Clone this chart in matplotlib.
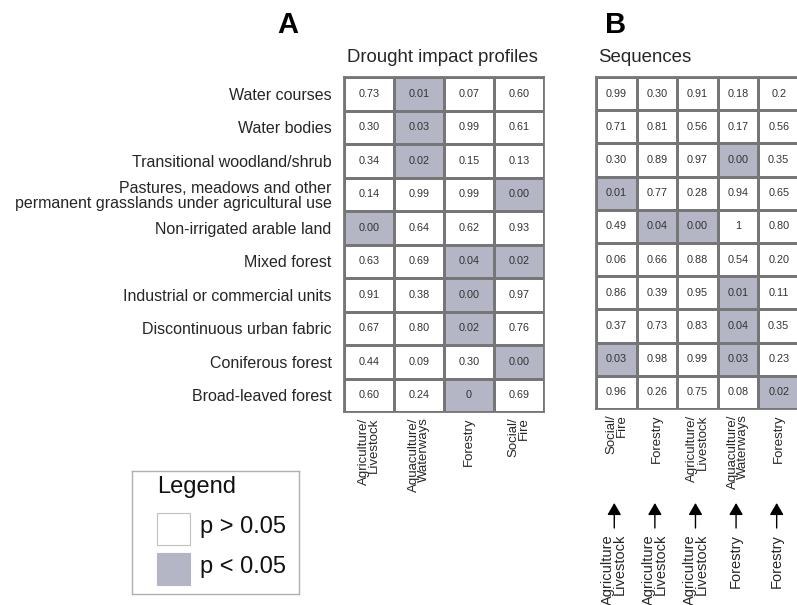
import numpy as np
import matplotlib
matplotlib.use("Agg")
import matplotlib.pyplot as plt
from matplotlib.colors import ListedColormap
from matplotlib.patches import Rectangle

plt.rcParams['font.family'] = ['Liberation Sans', 'DejaVu Sans']

# land cover classes (rows, top to bottom)
land_cover = [
    "Water courses",
    "Water bodies",
    "Transitional woodland/shrub",
    "Pastures, meadows and other\npermanent grasslands under agricultural use",
    "Non-irrigated arable land",
    "Mixed forest",
    "Industrial or commercial units",
    "Discontinuous urban fabric",
    "Coniferous forest",
    "Broad-leaved forest",
]

# panel A: drought impact profiles
profiles = ["Agriculture/\nLivestock", "Aquaculture/\nWaterways", "Forestry", "Social/\nFire"]
p_profiles = [
    ["0.73", "0.01", "0.07", "0.60"],
    ["0.30", "0.03", "0.99", "0.61"],
    ["0.34", "0.02", "0.15", "0.13"],
    ["0.14", "0.99", "0.99", "0.00"],
    ["0.00", "0.64", "0.62", "0.93"],
    ["0.63", "0.69", "0.04", "0.02"],
    ["0.91", "0.38", "0.00", "0.97"],
    ["0.67", "0.80", "0.02", "0.76"],
    ["0.44", "0.09", "0.30", "0.00"],
    ["0.60", "0.24", "0", "0.69"],
]

# panel B: sequences (from -> to)
seq_to = ["Social/\nFire", "Forestry", "Agriculture/\nLivestock", "Aquaculture/\nWaterways", "Forestry"]
seq_from = ["Agriculture\nLivestock", "Agriculture\nLivestock", "Agriculture\nLivestock", "Forestry", "Forestry"]
p_sequences = [
    ["0.99", "0.30", "0.91", "0.18", "0.2"],
    ["0.71", "0.81", "0.56", "0.17", "0.56"],
    ["0.30", "0.89", "0.97", "0.00", "0.35"],
    ["0.01", "0.77", "0.28", "0.94", "0.65"],
    ["0.49", "0.04", "0.00", "1", "0.80"],
    ["0.06", "0.66", "0.88", "0.54", "0.20"],
    ["0.86", "0.39", "0.95", "0.01", "0.11"],
    ["0.37", "0.73", "0.83", "0.04", "0.35"],
    ["0.03", "0.98", "0.99", "0.03", "0.23"],
    ["0.96", "0.26", "0.75", "0.08", "0.02"],
]

alpha = 0.05
W, H = 797, 605
grey = "#b4b6c6"
line_col = "#767676"
txt_col = "#262626"
cmap = ListedColormap(["white", grey])

fig = plt.figure(figsize=(W / 100, H / 100), dpi=100)


def px_axes(x0, y0, x1, y1):
    # axes placed by pixel box (origin top-left)
    return fig.add_axes([x0 / W, 1 - y1 / H, (x1 - x0) / W, (y1 - y0) / H])


def heat(ax, table, xlabels):
    vals = np.array([[float(s) for s in row] for row in table])
    sig = (vals < alpha).astype(int)
    ax.pcolormesh(sig, cmap=cmap, vmin=0, vmax=1, edgecolors=line_col, linewidth=0.9)
    for i, row in enumerate(table):
        for j, s in enumerate(row):
            ax.text(j + 0.5, i + 0.5, s, ha="center", va="center", fontsize=7.8, color="#333333")
    ax.set_xlim(0, vals.shape[1])
    ax.set_ylim(vals.shape[0], 0)
    ax.set_xticks(np.arange(vals.shape[1]) + 0.5)
    ax.set_xticklabels(xlabels, rotation=90, fontsize=9.5, color=txt_col,
                       multialignment="right", linespacing=0.8)
    ax.tick_params(axis="both", length=0)
    ax.tick_params(axis="x", pad=4)
    for sp in ax.spines.values():
        sp.set_color(line_col)
        sp.set_linewidth(1.3)


ax_a = px_axes(344, 77, 544, 412)
heat(ax_a, p_profiles, profiles)
ax_a.set_yticks(np.arange(len(land_cover)) + 0.5)
ax_a.set_yticklabels(land_cover, fontsize=11.5, color=txt_col, linespacing=1.05)
ax_a.tick_params(axis="y", pad=9)

ax_b = px_axes(596, 77, 799, 409)
heat(ax_b, p_sequences, seq_to)
ax_b.set_yticks([])

# arrows from origin impact profile to next one
for j, lab in enumerate(seq_from):
    x = j + 0.45
    ax_b.annotate("", xy=(x, H - 503), xytext=(x, H - 528),
                  xycoords=("data", "figure pixels"), textcoords=("data", "figure pixels"),
                  arrowprops=dict(arrowstyle="-|>,head_length=0.72,head_width=0.42",
                                  color="black", lw=1.0, mutation_scale=10,
                                  shrinkA=0, shrinkB=0))
    ax_b.annotate(lab, xy=(x, H - 534), xycoords=("data", "figure pixels"),
                  rotation=90, ha="center", va="top", multialignment="right",
                  fontsize=10.5, color=txt_col, linespacing=0.8)

# panel letters and titles
fig.text(288 / W, 1 - 25 / H, "A", fontsize=21, fontweight="bold", ha="center", va="center")
fig.text(616 / W, 1 - 25 / H, "B", fontsize=21, fontweight="bold", ha="center", va="center")
fig.text(347 / W, 1 - 58 / H, "Drought impact profiles", fontsize=13.4, ha="left", va="center", color=txt_col)
fig.text(598 / W, 1 - 58 / H, "Sequences", fontsize=13.4, ha="left", va="center", color=txt_col)

# legend box
ax_l = px_axes(132, 471, 299, 594)
ax_l.set_xlim(0, 167)
ax_l.set_ylim(123, 0)
ax_l.set_xticks([])
ax_l.set_yticks([])
for sp in ax_l.spines.values():
    sp.set_color("#b0b0b0")
    sp.set_linewidth(1.0)
ax_l.text(25, 16, "Legend", fontsize=17, va="center", ha="left", color="#111111")
ax_l.add_patch(Rectangle((25, 42), 33, 32, facecolor="white", edgecolor="#c0c0c0", lw=0.8))
ax_l.add_patch(Rectangle((25, 82), 33, 32, facecolor=grey, edgecolor=grey, lw=0.8))
ax_l.text(68, 56, "p > 0.05", fontsize=17, va="center", ha="left", color="#111111")
ax_l.text(68, 96, "p < 0.05", fontsize=17, va="center", ha="left", color="#111111")

fig.savefig("out.png", dpi=100)
